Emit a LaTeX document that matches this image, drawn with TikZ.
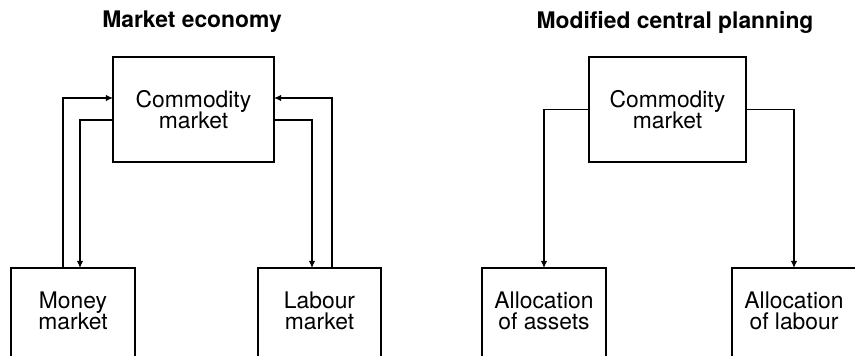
\documentclass[tikz,border=0pt]{standalone}
\usepackage{fontspec}
\setmainfont{TeX Gyre Heros}
\usetikzlibrary{arrows.meta,calc}
\begin{document}
\begin{tikzpicture}[x=0.03cm,y=0.03cm,
        box/.style={draw,line width=1.7pt,inner sep=0pt,outer sep=0pt,align=center,
                    font=\fontsize{19.5}{18.5}\selectfont},
        lowbox/.style={draw,line width=1.7pt,inner sep=0pt,outer sep=0pt,anchor=north,
                    minimum width=124*0.03cm,minimum height=120*0.03cm},
        txt/.style={align=center,font=\fontsize{19.5}{18.5}\selectfont},
        head/.style={font=\fontsize{19.5}{19.5}\selectfont\bfseries},
        arr/.style={line width=1.1pt,-{Latex[length=6pt,width=5.5pt]}}]
        \useasboundingbox (0,0) rectangle (855,355);
        \clip (0,0) rectangle (855,355);
        % market economy
        \node[head] (t1) at (192,333) {Market economy};
        \node[box,minimum width=161*0.03cm,minimum height=105*0.03cm] (comm) at (193.5,245.5) {Commodity\\market};
        \node[lowbox] (money) at (73,87) {};
        \node[txt] (moneytxt) at ($(money.north)+(0,-43)$) {Money\\market};
        \node[lowbox,minimum width=123*0.03cm] (labour) at (319.5,87) {};
        \node[txt] (labourtxt) at ($(labour.north)+(0,-43)$) {Labour\\market};
        \draw[arr] ($(money.north west)+(52,0)$) |- ($(comm.west)+(0,11.5)$);
        \draw[arr] ($(comm.west)+(0,-10.5)$) -| ($(money.north west)+(69,0)$);
        \draw[arr] ($(labour.north west)+(74,0)$) |- ($(comm.east)+(0,11.5)$);
        \draw[arr] ($(comm.east)+(0,-10.5)$) -| ($(labour.north west)+(54,0)$);
        % modified central planning
        \node[head] (t2) at (675,333) {Modified central planning};
        \node[box,minimum width=157*0.03cm,minimum height=105*0.03cm] (comm2) at (667.5,245.5) {Commodity\\market};
        \node[lowbox] (assets) at (544,87) {};
        \node[txt] (assetstxt) at ($(assets.north)+(0,-43)$) {Allocation\\of assets};
        \node[lowbox] (alab) at (794,87) {};
        \node[txt] (alabtxt) at ($(alab.north)+(0,-43)$) {Allocation\\of labour};
        \draw[arr] (comm2.west) -| (assets.north);
        \draw[arr] (comm2.east) -| (alab.north);
\end{tikzpicture}
\end{document}
